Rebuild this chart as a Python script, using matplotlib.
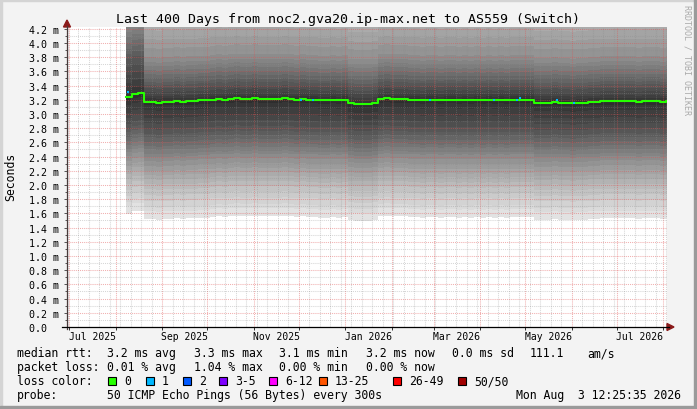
import datetime as dt

import numpy as np
import matplotlib
matplotlib.use('Agg')
import matplotlib.pyplot as plt
import matplotlib.transforms as mtransforms
from matplotlib.patches import Rectangle, Polygon
from matplotlib.lines import Line2D

W, H = 697, 410
FONT = 'DejaVu Sans Mono'

END = dt.datetime(2026, 8, 3, 12, 25, 35)
SPAN_DAYS = 400
START = END - dt.timedelta(days=SPAN_DAYS)

title = 'Last 400 Days from noc2.gva20.ip-max.net to AS559 (Switch)'

# median rtt in ms, one value every 4 days, first value 39.3 days after START
first_day = 39.3
step_days = 4
median_rtt = [
    3.24, 3.28, 3.29, 3.17, 3.17, 3.16, 3.17, 3.17, 3.18, 3.17,
    3.18, 3.18, 3.19, 3.19, 3.20, 3.21, 3.20, 3.21, 3.22, 3.21,
    3.21, 3.22, 3.21, 3.21, 3.21, 3.21, 3.22, 3.21, 3.20, 3.21,
    3.20, 3.20, 3.19, 3.19, 3.20, 3.19, 3.20, 3.15, 3.14, 3.14,
    3.14, 3.15, 3.21, 3.22, 3.21, 3.21, 3.21, 3.20, 3.20, 3.19,
    3.20, 3.20, 3.19, 3.20, 3.20, 3.19, 3.20, 3.19, 3.20, 3.19,
    3.20, 3.19, 3.20, 3.19, 3.20, 3.20, 3.20, 3.20, 3.16, 3.16,
    3.16, 3.17, 3.16, 3.16, 3.15, 3.16, 3.16, 3.17, 3.17, 3.18,
    3.18, 3.18, 3.18, 3.18, 3.18, 3.17, 3.18, 3.18, 3.18, 3.17,
    3.18,
]

# samples with 1 lost ping (day after START, rtt ms)
loss1_days = [40, 155, 163, 241, 284, 299, 301, 326, 337]
loss1_rtt = [3.31, 3.20, 3.19, 3.20, 3.20, 3.20, 3.22, 3.19, 3.15]

# smoke bands, outermost to innermost: grey level and edges relative to median (ms)
smoke_grey = [226, 218, 211, 203, 195, 187, 179, 171, 164, 156, 148, 140,
              132, 125, 117, 109, 101, 93, 86, 78, 70, 62, 54, 46]
smoke_lo = [-1.65, -1.54, -1.48, -1.39, -1.31, -1.23, -1.16, -1.09, -1.03, -0.97, -0.90, -0.83,
            -0.77, -0.73, -0.67, -0.62, -0.56, -0.50, -0.45, -0.38, -0.30, -0.22, -0.12, -0.05]
smoke_hi = [2.00, 1.87, 1.76, 1.63, 1.50, 1.38, 1.25, 1.12, 1.01, 0.88, 0.76, 0.63,
            0.56, 0.51, 0.45, 0.39, 0.34, 0.28, 0.24, 0.19, 0.14, 0.09, 0.05, 0.02]
# first two weeks had a heavier upper tail
early_end_day = 51.3
early_hi = [2.20, 2.10, 2.00, 1.91, 1.81, 1.70, 1.60, 1.50, 1.41, 1.31, 1.20, 1.10,
            1.00, 0.92, 0.84, 0.76, 0.68, 0.60, 0.53, 0.42, 0.31, 0.20, 0.10, 0.02]

y_max = 4.225
month_labels = ['Jul 2025', 'Sep 2025', 'Nov 2025', 'Jan 2026', 'Mar 2026', 'May 2026', 'Jul 2026']

legend_rows = [
    (354, [(17, 'median rtt:'), (107, '3.2 ms avg'), (194, '3.3 ms max'), (279, '3.1 ms min'),
           (366, '3.2 ms now'), (452, '0.0 ms sd'), (530, '111.1'), (587, 'am/s')]),
    (368, [(17, 'packet loss:'), (107, '0.01 % avg'), (194, '1.04 % max'), (279, '0.00 % min'),
           (366, '0.00 % now')]),
    (382, [(17, 'loss color:')]),
    (396, [(17, 'probe:'), (107, '50 ICMP Echo Pings (56 Bytes) every 300s')]),
]
loss_names = ['0', '1', '2', '3-5', '6-12', '13-25', '26-49', '50/50']
loss_colors = ['#26ff00', '#00b8ff', '#0059ff', '#7e00ff', '#ff00ff', '#ff5500', '#ff0000', '#a10000']
loss_box_x = [108, 146, 183, 219, 269, 319, 393, 458]
stamp = 'Mon Aug  3 12:25:35 2026'


def day_of(d):
    return (d - START).total_seconds() / 86400.0


def fx(px):
    return px / W


def fy(py):
    return 1 - py / H


fig = plt.figure(figsize=(W / 100, H / 100), dpi=100, facecolor='#f3f3f3')
ax = fig.add_axes([fx(67), fy(328), 600 / W, 300 / H])
ax.set_facecolor('white')
ax.set_xlim(0, SPAN_DAYS)
ax.set_ylim(0, y_max)

days = first_day + step_days * np.arange(len(median_rtt))
x = np.append(days, SPAN_DAYS)
med = np.append(median_rtt, median_rtt[-1])
early = x < early_end_day

for k, g in enumerate(smoke_grey):
    hi_off = np.where(early, early_hi[k], smoke_hi[k])
    c = '#%02x%02x%02x' % (g, g, g)
    ax.fill_between(x, med + smoke_lo[k], med + hi_off, step='post',
                    color=c, linewidth=0, zorder=1)

ax.step(x, med, where='post', color='#26ff00', lw=1.5, zorder=3)
for d, v in zip(loss1_days, loss1_rtt):
    ax.plot([d, d + 1.5], [v, v], color='#00b8ff', lw=1.5, zorder=4,
            solid_capstyle='butt')

# grid: months (major, red) and weeks (minor, grey)
months = []
y, m = 2025, 7
while dt.datetime(y, m, 1) < END:
    months.append(dt.datetime(y, m, 1))
    y, m = (y + 1, 1) if m == 12 else (y, m + 1)
weeks = []
d = dt.datetime(2025, 6, 30)
while d < END:
    weeks.append(day_of(d))
    d += dt.timedelta(days=7)
ax.set_xticks([day_of(mm) for mm in months])
ax.set_xticks(weeks, minor=True)
ax.set_xticklabels([])
yt = np.arange(0, 4.21, 0.2)
ax.set_yticks(yt)
ax.set_yticks(np.arange(0, 4.21, 0.1), minor=True)
ax.set_yticklabels(['0.0  ' if v < 0.01 else '%.1f m' % v for v in yt],
                   fontfamily=FONT, fontsize=7.2)
ax.set_axisbelow(False)
ax.grid(which='major', color='#e05050', alpha=0.45, lw=0.75, ls=(0, (1, 1)))
ax.grid(which='minor', color='#8c8c8c', alpha=0.35, lw=0.75, ls=(0, (1, 1)))
ax.tick_params(axis='y', which='major', length=2.5, width=0.7, color='#555555', pad=3)
ax.tick_params(axis='y', which='minor', length=1.5, width=0.7, color='#555555')
ax.tick_params(axis='x', which='major', length=2, width=0.7, color='#333333')
ax.tick_params(axis='x', which='minor', length=0)
for s in ax.spines.values():
    s.set_visible(False)

# month labels centred in their month
lab_tr = mtransforms.blended_transform_factory(ax.transData, fig.transFigure)
for lab in month_labels:
    m0 = dt.datetime.strptime(lab, '%b %Y')
    m1 = dt.datetime(m0.year + (m0.month == 12), m0.month % 12 + 1, 1)
    ax.text((day_of(m0) + day_of(m1)) / 2, fy(337), lab, ha='center', va='center',
            transform=lab_tr, fontfamily=FONT, fontsize=7.0)

# axes lines and arrows
fig.add_artist(Line2D([fx(67), fx(67)], [fy(330), fy(27)], color='#4a3a3a', lw=0.9))
fig.add_artist(Line2D([fx(62), fx(669)], [fy(328), fy(328)], color='black', lw=0.9))
fig.add_artist(Polygon([(fx(67), fy(21)), (fx(63.5), fy(28)), (fx(70.5), fy(28))],
                       closed=True, color='#8b1a1a', transform=fig.transFigure))
fig.add_artist(Polygon([(fx(674), fy(328)), (fx(667), fy(324.5)), (fx(667), fy(331.5))],
                       closed=True, color='#8b1a1a', transform=fig.transFigure))

fig.text(0.5, fy(19), title, ha='center', va='center', fontfamily=FONT, fontsize=9.5)
fig.text(fx(11), fy(177), 'Seconds', rotation=90, ha='center', va='center',
         fontfamily=FONT, fontsize=8.3)
fig.text(fx(687), fy(60), 'RRDTOOL / TOBI OETIKER', rotation=270, ha='center', va='center',
         fontfamily=FONT, fontsize=6.0, color='#aaaaaa')

for ry, items in legend_rows:
    for px, txt in items:
        fig.text(fx(px), fy(ry), txt, ha='left', va='center', fontfamily=FONT, fontsize=8.3)
for bx, name, col in zip(loss_box_x, loss_names, loss_colors):
    fig.add_artist(Rectangle((fx(bx), fy(386)), 8 / W, 8 / H, facecolor=col,
                             edgecolor='black', lw=0.8, transform=fig.transFigure))
    fig.text(fx(bx + 16), fy(382), name, ha='left', va='center', fontfamily=FONT, fontsize=8.3)
fig.text(fx(681), fy(396), stamp, ha='right', va='center', fontfamily=FONT, fontsize=8.3)

# 3d frame
fig.add_artist(Rectangle((0, 1 - 2 / H), 1, 2 / H, color='#d4d4d4', transform=fig.transFigure))
fig.add_artist(Rectangle((0, 0), 2 / W, 1, color='#d4d4d4', transform=fig.transFigure))
fig.add_artist(Rectangle((0, 0), 1, 3 / H, color='#9a9a9a', transform=fig.transFigure))
fig.add_artist(Rectangle((1 - 3 / W, 0), 3 / W, 1, color='#9a9a9a', transform=fig.transFigure))

fig.savefig('out.png', dpi=100, facecolor=fig.get_facecolor())
